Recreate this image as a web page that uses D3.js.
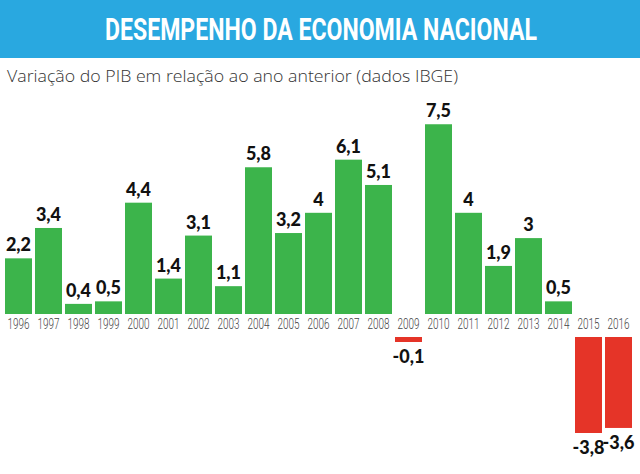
<!DOCTYPE html>
<html>
<head>
<meta charset="utf-8">
<script src="https://cdn.jsdelivr.net/npm/d3@7"></script>
<style>
html,body{margin:0;padding:0;background:#fff;}
svg{display:block;}
</style>
</head>
<body>
<script>
const years = ["1996","1997","1998","1999","2000","2001","2002","2003","2004","2005","2006","2007","2008","2009","2010","2011","2012","2013","2014","2015","2016"];
const values = [2.2,3.4,0.4,0.5,4.4,1.4,3.1,1.1,5.8,3.2,4,6.1,5.1,-0.1,7.5,4,1.9,3,0.5,-3.8,-3.6];
const valueLabels = ["2,2","3,4","0,4","0,5","4,4","1,4","3,1","1,1","5,8","3,2","4","6,1","5,1","-0,1","7,5","4","1,9","3","0,5","-3,8","-3,6"];
const title = "DESEMPENHO DA ECONOMIA NACIONAL";
const subtitle = "Variação do PIB em relação ao ano anterior (dados IBGE)";

const W = 640, H = 474;
const svg = d3.select("body").append("svg").attr("width", W).attr("height", H);

svg.append("rect").attr("x",0).attr("y",0).attr("width",W).attr("height",58).attr("fill","#29a8e0");
svg.append("text").attr("x",321).attr("y",40).attr("text-anchor","middle")
  .attr("font-family","Roboto, 'Open Sans', sans-serif").attr("font-weight",700)
  .attr("font-size",31).attr("fill","#fff")
  .attr("textLength",432).attr("lengthAdjust","spacingAndGlyphs").text(title);
svg.append("text").attr("x",7).attr("y",82)
  .attr("font-family","'Open Sans', sans-serif").attr("font-weight",300)
  .attr("font-size",17).attr("fill","#333")
  .attr("textLength",451).attr("lengthAdjust","spacingAndGlyphs").text(subtitle);

const x = d3.scaleBand().domain(years).range([3.5,633.5]).paddingInner(0.1).paddingOuter(0.05);
const y = d3.scaleLinear().domain([0,7.5]).range([314,314-7.5*25.3]);
const yn = d3.scaleLinear().domain([0,-3.8]).range([337,337+96]);

const data = years.map((yr,i)=>({yr, v:values[i], lab:valueLabels[i]}));

svg.selectAll("rect.bar").data(data).join("rect").attr("class","bar")
  .attr("x",d=>x(d.yr)).attr("width",x.bandwidth())
  .attr("y",d=>d.v>=0?y(d.v):yn(0))
  .attr("height",d=>d.v>=0?y(0)-y(d.v):Math.max(5,yn(d.v)-yn(0)))
  .attr("fill",d=>d.v>=0?"#3cb44b":"#e53428");

svg.selectAll("text.val").data(data).join("text").attr("class","val")
  .attr("x",d=>x(d.yr)+x.bandwidth()/2)
  .attr("y",d=>d.v>=0?y(d.v)-7:yn(0)+Math.max(5,yn(d.v)-yn(0))+21)
  .attr("text-anchor","middle")
  .attr("font-family","Lato, 'Open Sans', sans-serif").attr("font-weight",900)
  .attr("font-size",18).attr("fill","#111")
  .text(d=>d.lab);

const xAxis = d3.axisBottom(x).tickSize(0).tickPadding(0);
const ax = svg.append("g").attr("transform","translate(0,318)").call(xAxis);
ax.select(".domain").remove();
ax.selectAll("text").attr("dy","0").attr("y",11)
  .attr("font-family","Roboto, sans-serif").attr("font-weight",300)
  .attr("font-size",14).attr("fill","#444")
  .attr("textLength",22).attr("lengthAdjust","spacingAndGlyphs");
</script>
</body>
</html>
